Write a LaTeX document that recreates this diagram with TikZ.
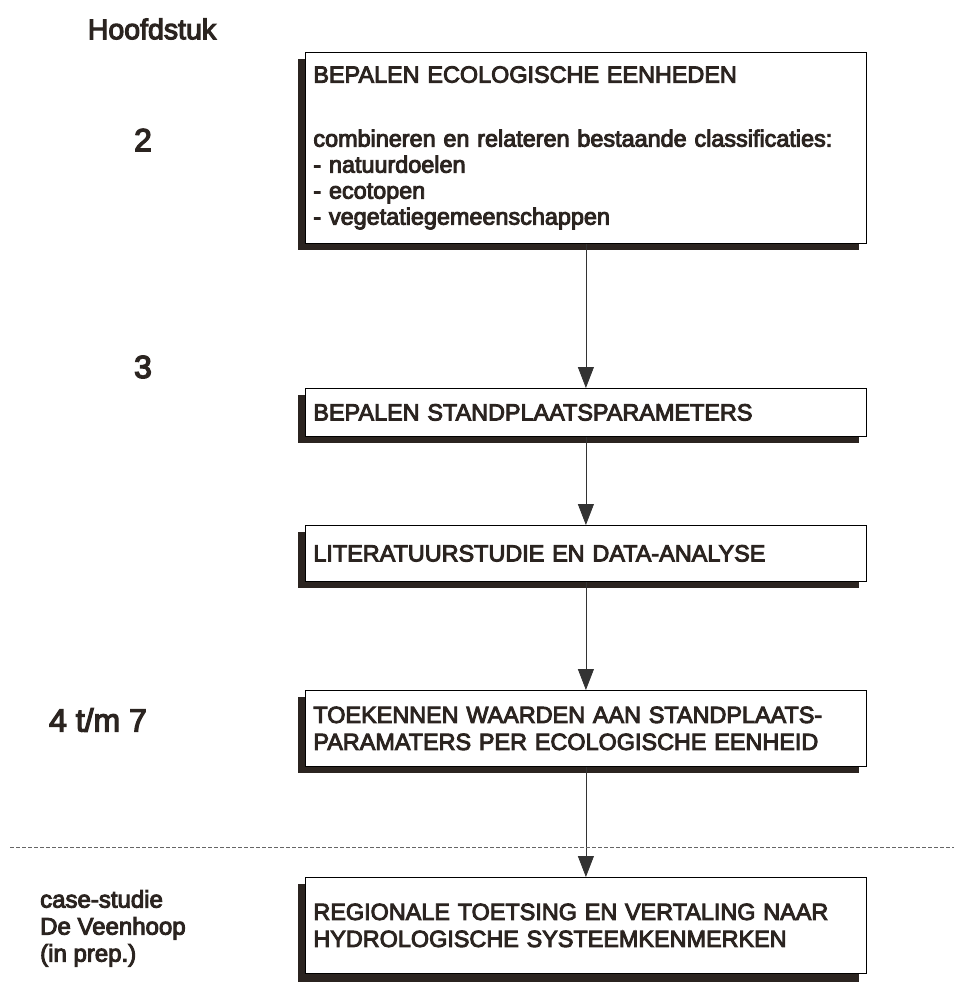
\documentclass[tikz,border=0pt]{standalone}
\usepackage{fontspec}
\setmainfont{Liberation Sans}[FakeBold=4]
\usetikzlibrary{arrows.meta}
\definecolor{ink}{HTML}{2B2420}
\tikzset{
  box/.style={draw=black, line width=0.8pt, fill=white, rectangle, minimum width=561pt,
    text width=545pt, inner xsep=8pt, inner ysep=0pt, align=left, anchor=north west,
    font=\fontsize{23.4}{26}\selectfont, text=ink},
  shadowbox/.style={fill=ink, draw=none},
  conn/.style={draw=black!80, line width=0.8pt, -{Triangle[length=21pt,width=16pt]}},
  chap/.style={font=\fontsize{32}{36}\selectfont, text=ink, inner sep=0pt},
  side/.style={font=\fontsize{24}{27}\selectfont, text=ink, inner sep=0pt, align=left}
}
\begin{document}
\begin{tikzpicture}[x=1pt,y=-1pt]
\useasboundingbox (0,0) rectangle (954,982);
% shadows
\fill[shadowbox] (298,59) rectangle (859,250);
\fill[shadowbox] (298,395) rectangle (859,443);
\fill[shadowbox] (298,532) rectangle (859,588);
\fill[shadowbox] (298,697) rectangle (859,773);
\fill[shadowbox] (298,884) rectangle (859,982);
% boxes
\node[box, minimum height=191pt] (b1) at (305,52) {BEPALEN ECOLOGISCHE EENHEDEN\\[38pt]
combineren en relateren bestaande classificaties:\\
- natuurdoelen\\
- ecotopen\\
- vegetatiegemeenschappen};
\node[box, minimum height=48pt] (b2) at (305,388) {BEPALEN STANDPLAATSPARAMETERS};
\node[box, minimum height=56pt] (b3) at (305,525) {LITERATUURSTUDIE EN DATA-ANALYSE};
\node[box, minimum height=76pt, font=\fontsize{23.4}{27}\selectfont] (b4) at (305,690) {TOEKENNEN WAARDEN AAN STANDPLAATS-\\PARAMATERS PER ECOLOGISCHE EENHEID};
\node[box, minimum height=96pt, font=\fontsize{23.4}{27}\selectfont] (b5) at (305,877) {REGIONALE TOETSING EN VERTALING NAAR\\HYDROLOGISCHE SYSTEEMKENMERKEN};
% connectors
\draw[conn] (b1.south) -- (b2.north);
\draw[conn] (b2.south) -- (b3.north);
\draw[conn] (b3.south) -- (b4.north);
\draw[conn] (b4.south) -- (b5.north);
% dashed separator
\coordinate (dl) at (10,847);
\coordinate (dr) at (954,847);
\draw[black!60, line width=0.7pt, dash pattern=on 4pt off 2pt] (dl) -- (dr);
% side labels
\node[chap, font=\fontsize{28.5}{32}\selectfont] (h) at (152,29) {Hoofdstuk};
\node[chap] (c2) at (143,140) {2};
\node[chap] (c3) at (143,367) {3};
\node[chap] (c4) at (98,720) {4 t/m 7};
\node[side, anchor=north west] (cs) at (40,890) {case-studie\\De Veenhoop\\(in prep.)};
\end{tikzpicture}
\end{document}
